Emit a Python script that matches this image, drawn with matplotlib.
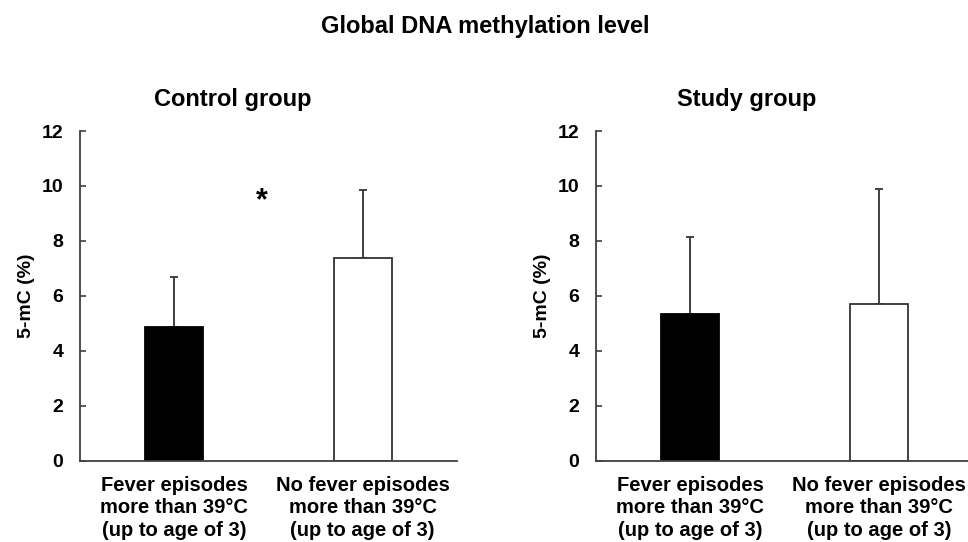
import matplotlib
matplotlib.use("Agg")
import matplotlib.pyplot as plt

plt.rcParams['font.family'] = ['Liberation Sans', 'DejaVu Sans']
plt.rcParams['font.weight'] = 'bold'

# data
categories = ["Fever episodes\nmore than 39°C\n(up to age of 3)",
              "No fever episodes\nmore than 39°C\n(up to age of 3)"]
control_mean = [4.85, 7.36]
control_sd = [1.82, 2.48]
study_mean = [5.33, 5.69]
study_sd = [2.82, 4.21]
yticks = [0, 2, 4, 6, 8, 10, 12]

fig = plt.figure(figsize=(9.68, 5.42), dpi=100)

axes_pos = [[0.0826, 0.150, 0.3895, 0.6083],
            [0.6157, 0.150, 0.3895, 0.6083]]
panels = [("Control group", control_mean, control_sd, 0.2407),
          ("Study group", study_mean, study_sd, 0.7717)]

axc = '#404040'
for pos, (name, mean, sd, tx) in zip(axes_pos, panels):
    ax = fig.add_axes(pos)
    x = range(len(mean))
    ax.bar(x, mean, width=0.31, color=['black', 'white'],
           edgecolor=['black', '#333333'], linewidth=1.3, zorder=2)
    ax.errorbar(x, mean, yerr=[[0, 0], sd], fmt='none', ecolor=axc,
                elinewidth=1.4, capsize=3, capthick=1.4, zorder=1)
    ax.set_xlim(-0.5, 1.5)
    ax.set_ylim(0, 12)
    ax.set_yticks(yticks)
    ax.set_xticks(list(x))
    ax.set_xticklabels(categories, fontsize=14.5, linespacing=1.22)
    ax.tick_params(axis='x', length=0, pad=11)
    ax.tick_params(axis='y', direction='in', length=4, width=1.2,
                   color=axc, labelsize=14, pad=12)
    ax.set_ylabel("5-mC (%)", fontsize=14, fontweight='bold', labelpad=5)
    for s in ['top', 'right']:
        ax.spines[s].set_visible(False)
    for s in ['left', 'bottom']:
        ax.spines[s].set_color(axc)
        ax.spines[s].set_linewidth(1.3)
    fig.text(tx, 0.8044, name, ha='center', va='baseline', fontsize=17)
    if name == "Control group":
        ax.text(0.467, 9.45, "*", ha='center', va='center', fontsize=22)

fig.text(0.501, 0.939, "Global DNA methylation level", ha='center',
         va='baseline', fontsize=17)

fig.savefig("out.png", dpi=100)
